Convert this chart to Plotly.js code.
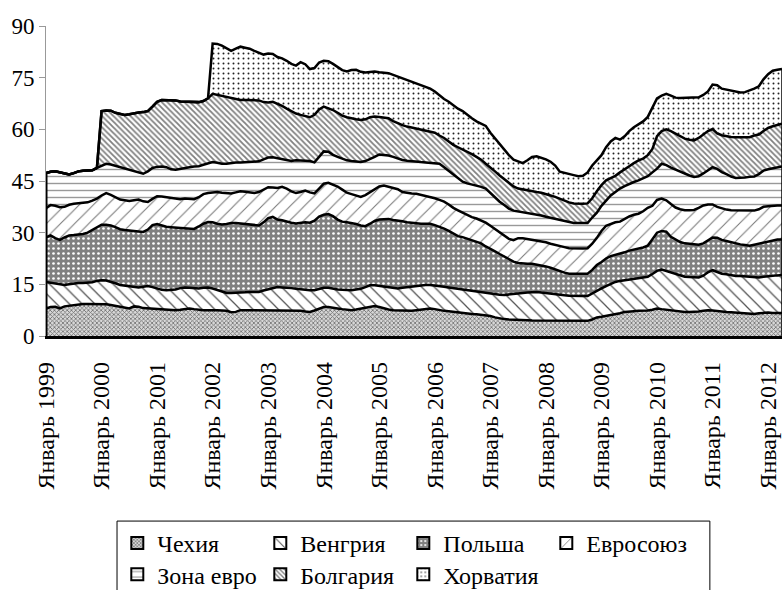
<!DOCTYPE html>
<html>
<head>
<meta charset="utf-8">
<script src="https://cdn.plot.ly/plotly-3.0.1.min.js"></script>
<style>html,body{margin:0;padding:0;background:#fff;}#chart{width:782px;height:590px;}</style>
</head>
<body>
<div id="chart"></div>
<script>
// Monthly data, January 1999 – April 2012 (160 months)
var tickLabels = ["Январь 1999","Январь 2000","Январь 2001","Январь 2002","Январь 2003","Январь 2004","Январь 2005","Январь 2006","Январь 2007","Январь 2008","Январь 2009","Январь 2010","Январь 2011","Январь 2012"];
var seriesNames = ["Чехия","Венгрия","Польша","Евросоюз","Зона евро","Болгария","Хорватия"];

var czech = [
 8.0,8.4,8.5,8.0,8.6,8.8,8.9,9.1,9.3,9.3,
 9.3,9.2,9.3,9.2,9.0,8.8,8.5,8.3,8.0,8.6,
 8.5,8.1,8.0,8.0,7.8,7.6,7.5,7.5,7.5,7.6,
 7.9,8.0,7.8,7.6,7.5,7.5,7.6,7.5,7.4,7.3,
 6.9,7.0,7.5,7.5,7.5,7.5,7.5,7.4,7.3,7.3,
 7.3,7.4,7.4,7.5,7.5,7.3,7.1,7.0,7.4,8.0,
 8.4,8.4,8.1,8.0,7.8,7.6,7.5,7.7,7.9,8.1,
 8.4,8.7,8.4,8.0,7.7,7.5,7.4,7.4,7.3,7.3,
 7.5,7.7,7.9,8.0,7.8,7.5,7.3,7.2,7.0,6.8,
 6.7,6.6,6.4,6.3,6.2,6.1,5.8,5.4,5.1,4.9,
 4.8,4.8,4.7,4.6,4.6,4.5,4.5,4.4,4.4,4.4,
 4.4,4.4,4.4,4.4,4.4,4.4,4.4,4.4,4.8,5.4,
 5.6,5.8,6.0,6.2,6.6,7.0,7.0,7.2,7.3,7.3,
 7.4,7.6,8.0,7.8,7.6,7.4,7.3,7.1,7.0,7.0,
 7.0,7.1,7.3,7.5,7.4,7.2,7.1,7.0,6.9,6.8,
 6.8,6.6,6.5,6.4,6.6,6.8,6.8,6.7,6.7,6.7
];
var hungary = [
 7.7,7.1,6.7,6.9,6.2,6.2,6.4,6.3,6.1,6.1,
 6.3,6.8,6.9,6.9,6.8,6.5,6.3,6.3,6.4,5.6,
 5.6,6.2,6.5,6.2,6.0,5.8,5.8,5.8,6.0,6.3,
 6.2,6.0,6.1,6.2,6.5,6.6,6.2,5.8,5.5,5.2,
 5.6,5.5,5.0,5.2,5.3,5.3,5.3,5.8,6.3,6.7,
 6.9,6.7,6.7,6.4,6.2,6.2,6.3,6.3,5.9,5.6,
 5.6,5.6,5.6,5.5,5.6,5.7,5.8,5.8,5.8,6.1,
 6.3,6.0,6.1,6.3,6.3,6.3,6.4,6.6,6.9,7.0,
 6.9,6.9,6.9,6.8,6.9,7.0,7.0,6.9,6.9,6.8,
 6.8,6.7,6.6,6.5,6.5,6.4,6.6,6.8,6.9,7.0,
 7.3,7.5,7.7,7.9,8.0,8.2,8.3,8.2,8.0,7.8,
 7.6,7.5,7.4,7.3,7.2,7.2,7.2,7.2,7.6,7.8,
 8.2,8.7,9.2,9.5,9.4,9.2,9.4,9.4,9.4,9.6,
 9.8,10.4,10.9,11.5,11.3,10.9,10.7,10.5,10.2,10.1,
 10.1,9.9,10.2,11.0,11.7,11.4,11.0,10.9,10.7,10.6,
 10.6,10.7,10.7,10.7,10.4,10.4,10.6,10.8,10.9,11.0
];
var poland = [
 12.9,13.7,13.2,13.0,13.8,14.2,14.0,14.0,14.2,14.6,
 15.2,15.6,16.1,16.2,16.3,16.3,16.2,16.2,16.3,16.4,
 16.3,15.9,16.4,18.0,18.7,18.6,18.4,18.3,18.0,17.6,
 17.3,17.2,17.2,18.0,18.6,19.0,19.2,19.3,19.5,20.0,
 20.3,20.3,20.2,19.9,19.7,19.5,19.3,19.8,20.6,20.6,
 19.6,19.5,19.1,19.0,19.0,19.4,19.6,19.6,20.2,21.1,
 21.2,21.4,21.1,20.3,19.8,19.7,19.5,19.0,18.4,17.7,
 17.9,18.7,19.3,19.7,20.0,19.9,19.8,19.3,18.8,18.5,
 18.2,18.0,17.8,17.8,17.5,17.3,16.9,16.4,15.9,15.4,
 15.2,14.9,14.7,14.5,14.2,13.5,13.0,12.4,11.8,11.1,
 10.2,9.3,8.8,8.5,8.4,8.3,8.0,7.9,7.8,7.6,
 7.3,6.9,6.6,6.4,6.5,6.5,6.5,6.5,6.8,7.4,
 7.7,8.0,8.0,7.8,7.8,8.1,8.4,8.5,8.6,8.8,
 9.0,10.0,11.1,11.2,11.4,10.5,10.0,9.7,9.7,9.6,
 9.5,9.5,9.4,9.3,9.5,9.9,9.8,9.7,9.6,9.4,
 9.2,9.1,9.0,9.4,9.8,10.0,10.1,10.3,10.4,10.3
];
var eu = [
 8.6,8.8,9.4,9.5,8.9,8.9,9.1,9.1,9.0,8.8,
 8.5,8.3,8.5,9.2,8.9,8.6,8.6,8.6,8.5,8.8,
 9.2,8.9,8.0,7.6,8.1,8.5,8.6,8.4,8.2,8.2,
 8.5,8.6,8.6,8.5,8.6,8.4,8.6,9.2,9.2,8.9,
 8.6,8.9,9.3,9.3,9.1,9.2,9.7,9.6,9.0,8.5,
 9.2,9.7,9.6,9.1,8.8,8.9,9.2,8.8,7.9,8.1,
 9.0,9.1,9.2,9.6,9.3,8.6,8.4,8.3,8.3,9.0,
 9.2,9.2,9.6,9.7,9.4,9.3,9.0,8.5,8.5,8.6,
 8.7,8.4,8.1,7.8,7.8,7.7,7.8,7.7,7.4,7.5,
 7.1,6.9,6.8,6.8,6.6,6.9,6.6,6.4,6.2,6.0,
 5.9,6.2,7.2,7.4,7.2,6.9,6.8,6.9,7.0,7.0,
 7.1,7.3,7.4,7.4,7.3,7.3,7.3,7.4,7.6,7.9,
 9.0,9.5,9.4,9.5,9.4,9.7,9.9,10.1,10.2,10.5,
 11.0,9.8,9.5,9.4,9.1,9.5,9.3,9.5,9.6,9.8,
 10.0,10.7,11.0,10.4,9.6,9.0,9.1,9.1,9.3,9.7,
 9.9,10.1,10.3,9.9,10.0,10.3,10.2,10.1,9.9,9.9
];
var euroArea = [
 10.1,9.7,10.0,10.1,9.7,8.8,8.9,9.3,9.4,9.2,
 8.8,8.9,8.5,8.5,8.8,9.2,9.5,9.3,9.1,8.5,
 7.8,8.0,8.9,9.0,8.5,8.7,8.7,8.4,8.6,8.9,
 8.9,9.2,9.5,9.0,8.5,8.7,8.9,8.5,8.4,8.6,
 8.9,8.7,8.4,8.6,9.0,9.1,8.9,8.7,8.6,8.8,
 8.6,8.1,8.2,8.8,9.5,9.2,8.8,9.1,9.0,9.2,
 9.4,9.0,8.6,8.6,8.9,9.4,9.6,9.8,10.1,9.9,
 9.5,9.4,9.3,8.9,9.0,9.0,8.9,9.3,9.4,9.3,
 9.3,9.5,9.7,9.9,10.2,10.5,10.0,9.8,9.8,9.3,
 9.0,9.2,9.5,9.6,9.8,9.9,9.5,9.0,9.0,9.0,
 8.8,8.6,7.8,7.6,7.5,7.5,7.6,7.6,7.4,7.5,
 7.6,7.6,7.6,7.6,7.4,7.4,7.4,7.3,7.6,7.3,
 7.3,7.3,8.2,8.8,9.6,9.5,9.5,9.5,9.7,9.6,
 9.2,9.7,9.1,10.1,10.2,10.6,11.0,10.8,10.6,10.1,
 9.6,9.2,9.3,9.8,10.8,11.0,10.6,10.3,9.8,9.4,
 9.4,9.5,9.7,9.9,10.2,10.5,10.7,10.7,11.0,11.3
];
var bulgaria = [
 0,0,0,0,0,0,0,0,0,0,
 0,0,16.0,15.5,15.6,15.4,15.3,15.5,16.1,16.8,
 17.5,17.9,17.5,17.8,18.9,19.3,19.5,20.1,20.1,19.5,
 19.2,19.0,18.7,18.6,18.5,18.8,19.8,19.7,19.5,19.3,
 18.7,18.2,18.1,18.0,17.9,18.0,17.7,16.6,16.0,16.1,
 15.9,15.4,15.0,14.5,13.6,13.2,12.8,12.7,13.8,13.8,
 13.0,12.7,13.0,12.8,12.6,12.5,12.3,12.3,12.2,12.1,
 12.2,11.7,10.9,10.9,10.8,10.4,10.2,10.1,9.9,9.8,
 9.6,9.3,9.2,9.0,8.8,8.2,8.5,8.5,8.5,9.0,
 9.4,9.3,8.8,8.3,7.9,7.2,7.5,7.8,7.6,7.5,
 7.4,7.0,6.6,6.5,6.6,6.6,6.6,6.6,6.7,6.5,
 6.4,6.1,5.8,5.7,5.7,5.6,5.6,5.7,5.6,6.2,
 6.0,5.9,5.1,4.7,4.7,5.0,5.1,5.5,5.8,5.7,
 6.1,6.8,9.4,9.5,10.4,10.6,10.5,10.4,10.2,10.4,
 10.6,11.1,11.3,11.5,11.1,10.3,10.7,11.0,11.5,11.8,
 11.8,11.7,11.5,11.9,11.5,11.5,12.0,12.3,12.4,12.4
];
var croatia = [
 0,0,0,0,0,0,0,0,0,0,
 0,0,0,0,0,0,0,0,0,0,
 0,0,0,0,0,0,0,0,0,0,
 0,0,0,0,0,0,14.6,14.8,14.8,14.2,
 13.8,14.8,15.5,15.2,14.9,14.2,13.8,13.8,14.2,13.9,
 13.5,13.8,13.9,13.7,13.9,15.3,15.1,14.0,13.6,13.6,
 13.3,13.6,13.4,13.2,13.2,13.3,14.1,14.4,14.0,13.6,
 13.2,13.1,13.0,12.9,13.1,13.4,13.6,13.5,13.3,13.2,
 13.0,13.0,12.7,12.5,12.0,11.6,11.3,11.5,11.5,11.2,
 11.1,10.6,10.4,10.3,10.4,11.0,10.0,9.5,9.2,8.5,
 8.1,7.8,7.8,7.7,8.7,10.0,10.4,10.2,10.0,9.8,
 9.1,7.9,8.1,8.1,8.2,8.0,8.1,9.0,9.5,9.0,
 8.7,9.6,10.6,11.0,9.5,9.5,10.2,10.4,10.5,10.8,
 11.1,12.2,11.0,10.3,10.3,10.3,10.4,11.1,11.9,12.3,
 12.5,11.8,11.5,11.5,12.9,14.0,13.5,13.5,13.4,13.2,
 13.0,13.1,13.5,13.6,14.0,15.0,15.6,16.1,16.0,15.9
];

var seriesData = [czech, hungary, poland, eu, euroArea, bulgaria, croatia];
var patterns = [
  {shape: "x",  size: 3, solidity: 0.45, fgcolor: "#6e6e6e", bgcolor: "#d8d8d8"},
  {shape: "\\", size: 9, solidity: 0.14, fgcolor: "#555555", bgcolor: "#ffffff"},
  {shape: ".",  size: 5, solidity: 0.22, fgcolor: "#ffffff", bgcolor: "#808080"},
  {shape: "/",  size: 10, solidity: 0.1, fgcolor: "#777777", bgcolor: "#ffffff"},
  {shape: "-",  size: 7, solidity: 0.2, fgcolor: "#999999", bgcolor: "#ffffff"},
  {shape: "\\", size: 4, solidity: 0.45, fgcolor: "#808080", bgcolor: "#ffffff"},
  {shape: ".",  size: 5, solidity: 0.12, fgcolor: "#222222", bgcolor: "#ffffff"}
];

var n = czech.length;
var months = [];
for (var i = 0; i < n; i++) months.push(i);
var tickVals = tickLabels.map(function(_, k){ return k * 12; });

var traces = [];
seriesData.forEach(function(vals, k){
  traces.push({
    type: "scatter", mode: "lines", x: months, y: vals,
    stackgroup: "one", name: seriesNames[k], showlegend: false,
    line: {color: "#000", width: 2.5, shape: "linear"},
    fillcolor: patterns[k].bgcolor,
    fillpattern: {shape: patterns[k].shape, size: patterns[k].size, solidity: patterns[k].solidity,
                  fgcolor: patterns[k].fgcolor, bgcolor: patterns[k].bgcolor, fillmode: "replace"},
    hoverinfo: "skip"
  });
});
// vertical outlines at both ends of the stacked area
function total(idx){ return seriesData.reduce(function(s, arr){ return s + arr[idx]; }, 0); }
traces.push({type:"scatter", mode:"lines", x:[months[0], months[0]], y:[0, total(0)],
  line:{color:"#000", width:3}, showlegend:false, hoverinfo:"skip", cliponaxis:false});
traces.push({type:"scatter", mode:"lines", x:[months[n-1], months[n-1]], y:[0, total(n-1)],
  line:{color:"#000", width:1.5}, showlegend:false, hoverinfo:"skip"});
// legend entries (square swatches); first four in row one, the rest in row two
seriesData.forEach(function(vals, k){
  traces.push({
    type: "bar", x: [months[0]], y: [null], name: seriesNames[k], showlegend: true,
    legend: k < 4 ? "legend" : "legend2",
    hoverinfo: "skip",
    marker: {color: patterns[k].bgcolor, line: {color: "#000", width: 2},
             pattern: {shape: patterns[k].shape, size: patterns[k].size, solidity: patterns[k].solidity,
                       fgcolor: patterns[k].fgcolor, bgcolor: patterns[k].bgcolor, fillmode: "replace"}}
  });
});

var font = "Liberation Serif, Times New Roman, serif";
var legendCommon = {
  orientation: "h", xref: "container", yref: "container", xanchor: "left", yanchor: "top",
  borderwidth: 0, bgcolor: "rgba(0,0,0,0)",
  font: {family: font, size: 24, color: "#000"},
  entrywidth: 98, entrywidthmode: "pixels", traceorder: "normal",
  itemclick: false, itemdoubleclick: false
};
var layout = {
  width: 782, height: 590,
  margin: {l: 46, r: 0, t: 26, b: 254, autoexpand: false},
  paper_bgcolor: "#fff", plot_bgcolor: "#fff",
  font: {family: font, color: "#000", size: 22},
  showlegend: true,
  hovermode: false,
  xaxis: {
    type: "linear", range: [0, n - 1], tickmode: "array", tickvals: tickVals, ticktext: tickLabels,
    tickangle: -90, tickfont: {family: font, size: 24, color: "#000"},
    showgrid: false, zeroline: false, showline: true, linecolor: "#000", linewidth: 2.5,
    ticks: "", ticklabelstandoff: 14, ticklabeloverflow: "allow", fixedrange: true, automargin: false
  },
  yaxis: {
    range: [0, 90], tickmode: "array", tickvals: [0,15,30,45,60,75,90],
    tickfont: {family: font, size: 23, color: "#000"},
    showgrid: false, zeroline: false, showline: true, linecolor: "#999", linewidth: 1,
    ticks: "outside", ticklen: 6, tickcolor: "#999", tickwidth: 1, fixedrange: true, automargin: false
  },
  legend: Object.assign({}, legendCommon, {x: 0.15, y: 0.117}),
  legend2: Object.assign({}, legendCommon, {x: 0.15, y: 0.064}),
  shapes: [{
    type: "rect", xref: "paper", yref: "paper",
    x0: 0.0965, x1: 0.902, y0: -0.597, y1: -0.93,
    line: {color: "#000", width: 1}, fillcolor: "rgba(0,0,0,0)", layer: "above"
  }]
};

Plotly.newPlot("chart", traces, layout, {displayModeBar: false, staticPlot: true});
</script>
</body>
</html>
